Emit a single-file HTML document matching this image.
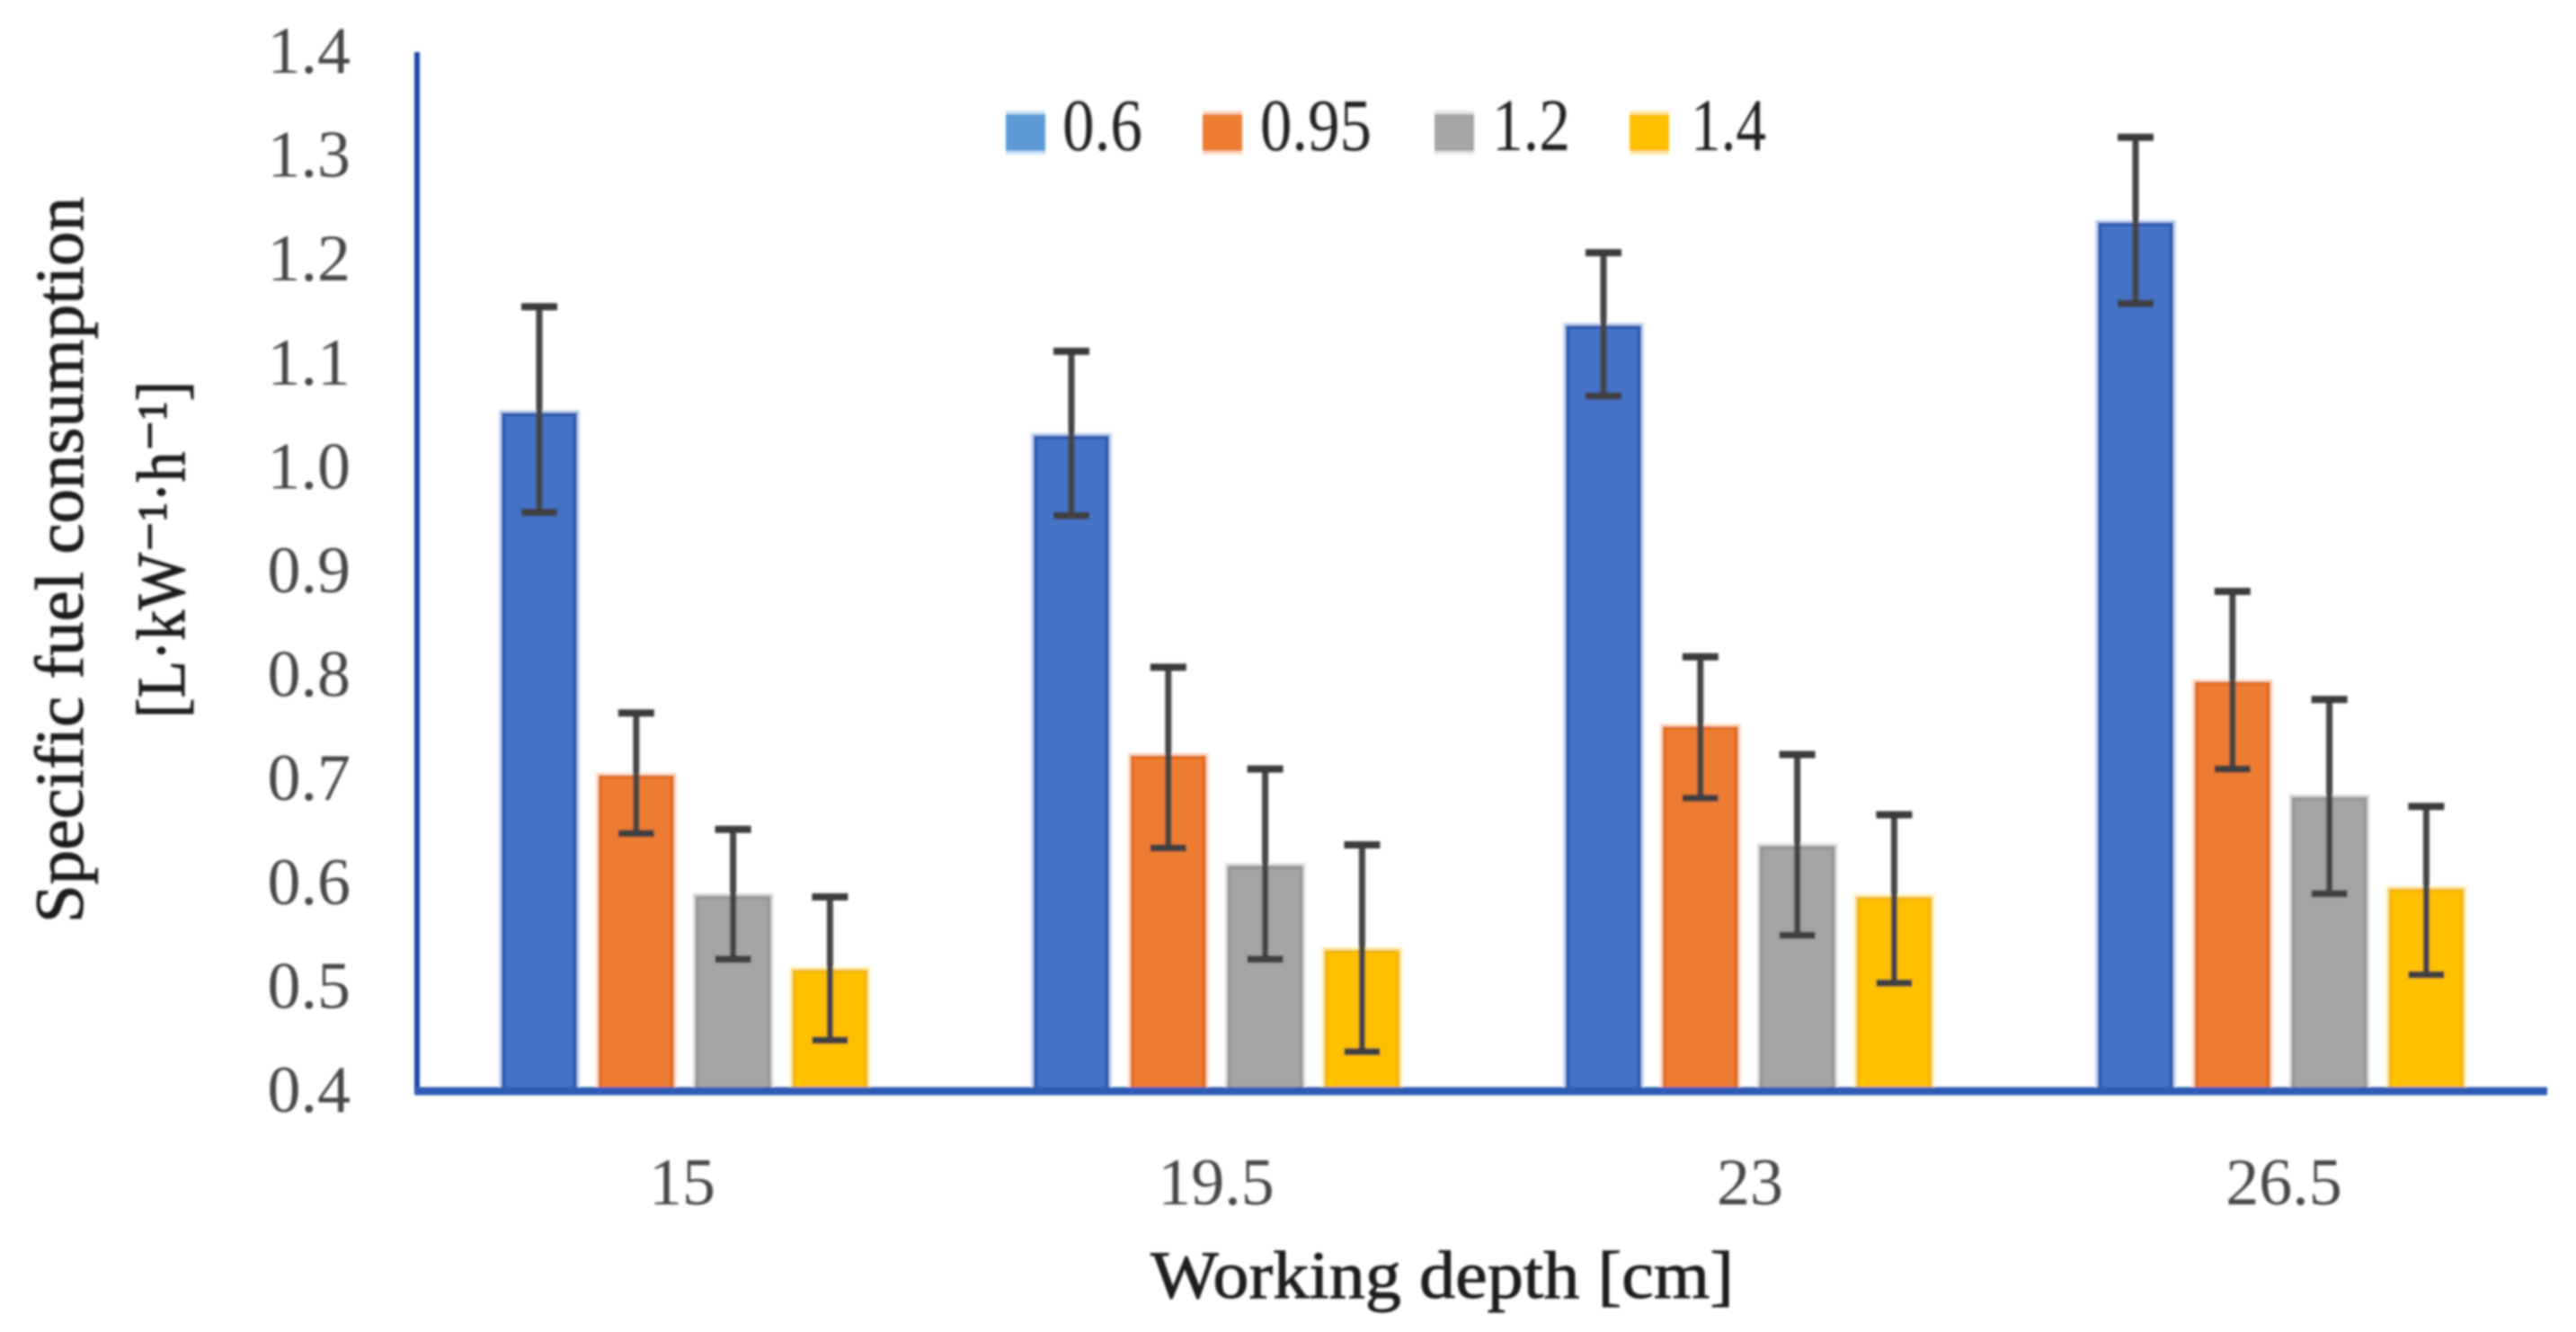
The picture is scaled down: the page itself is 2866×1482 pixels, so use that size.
<!DOCTYPE html>
<html lang="en">
<head>
<meta charset="utf-8">
<title>Specific fuel consumption vs working depth</title>
<style>
html,body{margin:0;padding:0;background:#fff;width:2866px;height:1482px;overflow:hidden}
svg{display:block}
text{font-family:"Liberation Serif","DejaVu Serif",serif}
</style>
</head>
<body>
<svg id="chart" xmlns="http://www.w3.org/2000/svg" width="2866" height="1482" viewBox="0 0 2866 1482">
  <defs>
    <filter id="soft" x="-2%" y="-2%" width="104%" height="104%"><feGaussianBlur stdDeviation="1.4"/></filter>
  </defs>
  <rect x="0" y="0" width="2866" height="1482" fill="#ffffff"/>
  <g id="root" filter="url(#soft)">
    <g id="bars"></g>
    <g id="axes"></g>
    <g id="errors"></g>
    <g id="yticks"></g>
    <g id="xticks"></g>
    <g id="legend"></g>
    <text transform="translate(92,1027) rotate(-90)" font-size="76" fill="#1a1a1a" stroke="#1a1a1a" stroke-width="0.9" textLength="808" lengthAdjust="spacingAndGlyphs">Specific fuel consumption</text>
    <text transform="translate(205,799) rotate(-90)" font-size="76" fill="#1a1a1a" stroke="#1a1a1a" stroke-width="0.9" textLength="375" lengthAdjust="spacingAndGlyphs">[L·kW⁻¹·h⁻¹]</text>
    <text x="1280" y="1444" font-size="75" fill="#1a1a1a" stroke="#1a1a1a" stroke-width="0.9" textLength="649" lengthAdjust="spacingAndGlyphs">Working depth [cm]</text>
  </g>
</svg>
<script>
const categories = ['15', '19.5', '23', '26.5'];
const seriesNames = ['0.6', '0.95', '1.2', '1.4'];
const yTickLabels = ['0.4', '0.5', '0.6', '0.7', '0.8', '0.9', '1.0', '1.1', '1.2', '1.3', '1.4'];

const series06 = [1.053, 1.031, 1.137, 1.236];
const series095 = [0.704, 0.723, 0.751, 0.794];
const series12 = [0.588, 0.617, 0.636, 0.683];
const series14 = [0.517, 0.536, 0.587, 0.595];

const upper06 = [1.155, 1.112, 1.207, 1.318];
const upper095 = [0.764, 0.808, 0.818, 0.881];
const upper12 = [0.652, 0.710, 0.724, 0.777];
const upper14 = [0.587, 0.637, 0.666, 0.674];

const lower06 = [0.957, 0.954, 1.069, 1.158];
const lower095 = [0.648, 0.634, 0.682, 0.710];
const lower12 = [0.527, 0.527, 0.550, 0.590];
const lower14 = [0.449, 0.438, 0.504, 0.512];

const allValues = [series06, series095, series12, series14];
const allUpper = [upper06, upper095, upper12, upper14];
const allLower = [lower06, lower095, lower12, lower14];

const NS = 'http://www.w3.org/2000/svg';
const fills = ['#4472c4', '#ed7d31', '#a5a5a5', '#ffc000'];
const edges = ['#2a58b0', '#e06c1c', '#959595', '#f2b600'];
const halos = ['#c5d5f0', '#fbdcc6', '#dedede', '#fff0b8'];
const legendFills = ['#5b9bd5', '#ed7d31', '#a5a5a5', '#ffc000'];
const legendHalos = ['#cfe2f5', '#fbd9c3', '#e6e6e6', '#ffeaa8'];

function yScale(v) { return 1214 - (v - 0.4) * 1156; }
function groupX(i) { return 558 + i * 592; }
function barX(i, s) { return groupX(i) + s * 107.8; }
function tickX(i) { return 759 + i * 594; }
const barWidth = 84;

function make(tag, attrs, parent) {
  const el = document.createElementNS(NS, tag);
  for (const k in attrs) el.setAttribute(k, attrs[k]);
  parent.appendChild(el);
  return el;
}

const barsG = document.getElementById('bars');
const errG = document.getElementById('errors');
allValues.forEach(function (vals, s) {
  vals.forEach(function (v, i) {
    const x = barX(i, s);
    const top = yScale(v);
    const h = yScale(0.4) - top;
    const halo = make('rect', { x: x - 3, y: top - 3, width: barWidth + 6, height: h + 3, fill: halos[s] }, barsG);
    
    
    const edge = make('rect', { x: x, y: top, width: barWidth, height: h, fill: edges[s] }, barsG);
    
    
    const bar = make('rect', { x: x + 4, y: top + 4, width: barWidth - 8, height: h - 4, fill: fills[s] }, barsG);
    
    

    const cx = x + barWidth / 2;
    const yU = yScale(allUpper[s][i]);
    const yL = yScale(allLower[s][i]);
    const stem = make('line', { x1: cx, x2: cx, y1: yU, y2: yL, stroke: '#454545', 'stroke-width': 7 }, errG);
    
    
    const capU = make('line', { x1: cx - 20, x2: cx + 20, y1: yU, y2: yU, stroke: '#3a3a3a', 'stroke-width': 8 }, errG);
    
    
    const capL = make('line', { x1: cx - 20, x2: cx + 20, y1: yL, y2: yL, stroke: '#3f3f3f', 'stroke-width': 8 }, errG);
    
    
  });
});

const axesG = document.getElementById('axes');
const yAxis = make('line', { x1: 464, x2: 464, y1: yScale(1.4), y2: yScale(0.4) + 4, stroke: '#1b45a6', 'stroke-width': 6 }, axesG);


const xAxis = make('line', { x1: 462, x2: 2834, y1: yScale(0.4), y2: yScale(0.4), stroke: '#2f5cb4', 'stroke-width': 9 }, axesG);



const yTickG = document.getElementById('yticks');
yTickLabels.forEach(function (t) {
  const el = make('text', { x: 390, y: yScale(parseFloat(t)) + 23, 'text-anchor': 'end', 'font-size': 74, fill: '#474747' }, yTickG);
  
  
  el.textContent = t;
});

const xTickG = document.getElementById('xticks');
categories.forEach(function (c, i) {
  const el = make('text', { x: tickX(i), y: 1340, 'text-anchor': 'middle', 'font-size': 74, fill: '#474747' }, xTickG);
  
  
  el.textContent = c;
});

const legendG = document.getElementById('legend');
const legendSwatchX = [1119, 1338, 1596, 1813];
const legendTextX = [1182, 1402, 1660, 1881];
const legendTextW = [89, 124, 87, 84];
seriesNames.forEach(function (n, s) {
  const halo = make('rect', { x: legendSwatchX[s], y: 123, width: 44, height: 49, fill: legendHalos[s] }, legendG);
  
  
  const sw = make('rect', { x: legendSwatchX[s], y: 127, width: 44, height: 41, fill: legendFills[s] }, legendG);
  
  
  const tx = make('text', { x: legendTextX[s], y: 167, 'font-size': 83, fill: '#222222', textLength: legendTextW[s], lengthAdjust: 'spacingAndGlyphs' }, legendG);
  
  
  tx.textContent = n;
});
</script>
</body>
</html>
